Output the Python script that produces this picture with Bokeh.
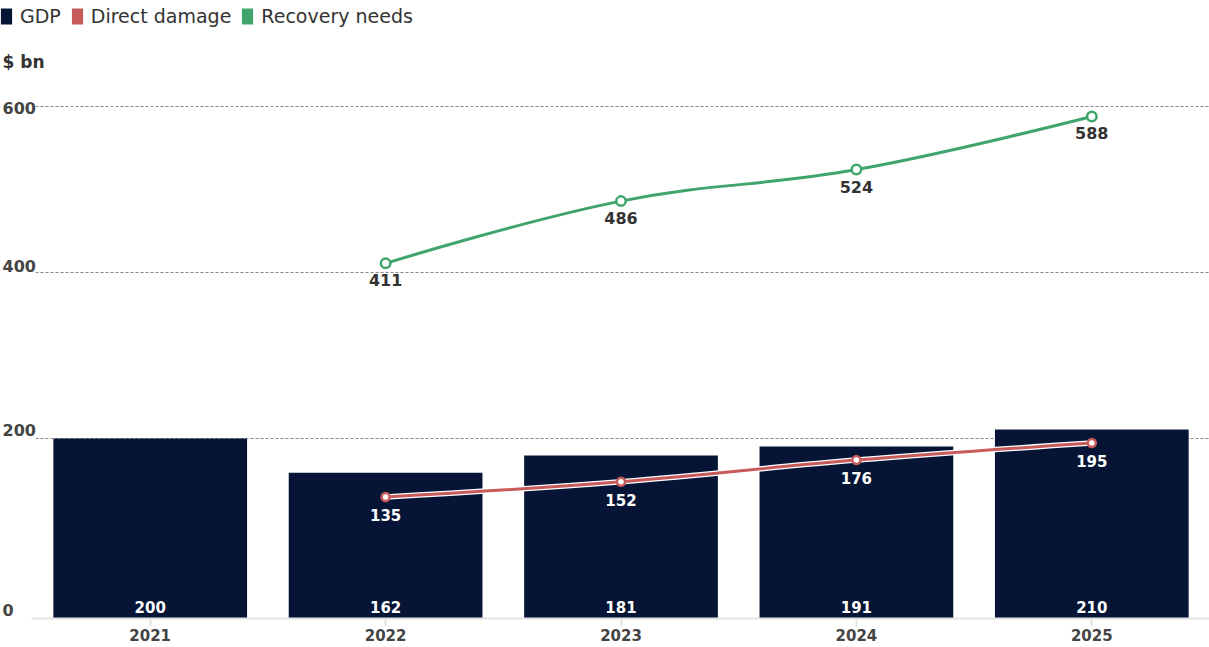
from bokeh.plotting import figure
from bokeh.models import Range1d, FixedTicker, Grid, Label, Legend, LegendItem, BoxAnnotation
from bokeh.core.properties import value
from bokeh.embed import file_html
from bokeh.resources import INLINE

# ---------------- data ----------------
years = ["2021", "2022", "2023", "2024", "2025"]
gdp = [200, 162, 181, 191, 210]
line_years = ["2022", "2023", "2024", "2025"]
direct_damage = [135, 152, 176, 195]
recovery_needs = [411, 486, 524, 588]
y_ticks = [0, 200, 400, 600]

# ---------------- style ----------------
NAVY = "#061536"
RED = "#c75b5b"
GREEN = "#3fa56c"
TEXT = "#333333"
AXIS_TEXT = "#444444"
FONT = "DejaVu Sans"

W, H = 1209, 647
PLOT_LEFT = 32        # px where the category band starts
BOTTOM = 29           # px below the baseline for the x axis
frame_h = H - BOTTOM  # frame spans the whole canvas above the axis
UNIT = (W - PLOT_LEFT) / len(years)   # px per category

BAR_PX = 0.9          # px per unit for GDP / damage scale
REC_PX = 0.83         # px per unit for recovery scale
REC_ZERO = 14         # px above baseline where recovery scale's zero sits

idx = {y: i for i, y in enumerate(years)}
gx = [idx[y] for y in years]
lx = [idx[y] for y in line_years]

x_start = -0.5 - PLOT_LEFT / UNIT
p = figure(width=W, height=H,
           x_range=Range1d(x_start, len(years) - 0.5),
           y_range=Range1d(-REC_ZERO / REC_PX, (frame_h - REC_ZERO) / REC_PX),
           y_axis_location=None,
           min_border_left=0, min_border_right=0,
           min_border_top=0, min_border_bottom=BOTTOM,
           output_backend="svg", toolbar_location=None)
p.extra_y_ranges = {"bar": Range1d(0, frame_h / BAR_PX)}
p.outline_line_color = None
p.background_fill_color = "white"
p.border_fill_color = "white"
p.xgrid.visible = False
p.ygrid.visible = False

# y gridlines
p.add_layout(Grid(dimension=1, ticker=FixedTicker(ticks=[t for t in y_ticks if t > 0]),
                  grid_line_color="#888888", grid_line_dash="3 2", grid_line_width=1))
# keep the gridlines clear of the tick-label column
p.add_layout(BoxAnnotation(right=-0.5 + 3 / UNIT, fill_color="white", fill_alpha=1,
                           line_color=None, level="underlay"))

# x axis
ax = p.xaxis[0]
ax.bounds = (-0.5 - 1 / UNIT, len(years) - 0.5)
ax.ticker = FixedTicker(ticks=gx)
ax.major_label_overrides = {i: y for i, y in zip(gx, years)}
ax.axis_line_color = "#e3e3e3"
ax.axis_line_width = 2
ax.major_tick_line_color = "#e3e3e3"
ax.major_tick_line_width = 2
ax.major_tick_out = 8
ax.major_tick_in = 0
ax.minor_tick_line_color = None
ax.major_label_standoff = 2
ax.major_label_text_font = FONT
ax.major_label_text_font_style = "bold"
ax.major_label_text_font_size = "15px"
ax.major_label_text_color = AXIS_TEXT


def spline(xs, ys, smoothing=1.5):
    """Bezier control points for a smooth line through the data points."""
    n = len(xs)
    d = smoothing + 1
    left = [(xs[i], ys[i]) for i in range(n)]
    right = [(xs[i], ys[i]) for i in range(n)]
    for i in range(1, n - 1):
        x, y = xs[i], ys[i]
        px, py = xs[i - 1], ys[i - 1]
        nx, ny = xs[i + 1], ys[i + 1]
        lcx, lcy = (smoothing * x + px) / d, (smoothing * y + py) / d
        rcx, rcy = (smoothing * x + nx) / d, (smoothing * y + ny) / d
        corr = ((rcy - lcy) * (rcx - x)) / (rcx - lcx) + y - rcy
        lcy += corr
        rcy += corr
        if lcy > py and lcy > y:
            lcy = max(py, y); rcy = 2 * y - lcy
        elif lcy < py and lcy < y:
            lcy = min(py, y); rcy = 2 * y - lcy
        if rcy > ny and rcy > y:
            rcy = max(ny, y); lcy = 2 * y - rcy
        elif rcy < ny and rcy < y:
            rcy = min(ny, y); lcy = 2 * y - rcy
        left[i] = (lcx, lcy)
        right[i] = (rcx, rcy)
    return dict(x0=xs[:-1], y0=ys[:-1], x1=xs[1:], y1=ys[1:],
                cx0=[right[i][0] for i in range(n - 1)], cy0=[right[i][1] for i in range(n - 1)],
                cx1=[left[i + 1][0] for i in range(n - 1)], cy1=[left[i + 1][1] for i in range(n - 1)])


# bars
bars = p.vbar(x=gx, top=gdp, bottom=0, width=0.823, fill_color=NAVY, line_color=None,
              y_range_name="bar")
p.text(x=gx, y=0, text=[str(v) for v in gdp], y_range_name="bar",
       text_align="center", text_baseline="middle", y_offset=-12,
       text_color="white", text_font=value(FONT), text_font_style="bold",
       text_font_size="15px")

# direct damage line
dd = spline(lx, direct_damage)
p.bezier(y_range_name="bar", line_color="white", line_width=5.5, **dd)
p.bezier(y_range_name="bar", line_color=RED, line_width=3, **dd)
p.scatter(lx, direct_damage, y_range_name="bar", size=8, fill_color="white",
          line_color=RED, line_width=2.5)
p.text(x=lx, y=direct_damage, text=[str(v) for v in direct_damage], y_range_name="bar",
       text_align="center", text_baseline="middle", y_offset=18,
       text_color="white", text_font=value(FONT), text_font_style="bold",
       text_font_size="15px")

# recovery needs line
rn = spline(lx, recovery_needs)
p.bezier(line_color=GREEN, line_width=3, **rn)
p.scatter(lx, recovery_needs, size=9.5, fill_color="white", line_color=GREEN, line_width=2.5)
p.text(x=lx, y=recovery_needs, text=[str(v) for v in recovery_needs],
       text_align="center", text_baseline="middle", y_offset=17,
       text_color=TEXT, text_font=value(FONT), text_font_style="bold",
       text_font_size="16px")

# y tick labels (left column, sitting just above their gridlines)
tick_shift = {0: -5, 200: 9, 400: 7, 600: -1}
for t in y_ticks:
    p.add_layout(Label(x=-0.5, y=t, x_offset=-30, y_offset=tick_shift[t], text=str(t),
                       text_align="left", text_baseline="middle",
                       text_font=FONT, text_font_style="bold", text_font_size="16px",
                       text_color=AXIS_TEXT))

# unit label
p.add_layout(Label(x=2, y=frame_h - 61, x_units="screen", y_units="screen",
                   text="$ bn", text_align="left", text_baseline="middle",
                   text_font=FONT, text_font_style="bold", text_font_size="17px",
                   text_color=TEXT))

# legend swatches (zero-height bars, used only for their colours)
leg_red = p.vbar(x=[0], top=[0], bottom=[0], width=0.5, fill_color=RED, line_color=None,
                 y_range_name="bar")
leg_green = p.vbar(x=[0], top=[0], bottom=[0], width=0.5, fill_color=GREEN, line_color=None,
                   y_range_name="bar")
legend = Legend(items=[LegendItem(label="GDP", renderers=[bars]),
                       LegendItem(label="Direct damage", renderers=[leg_red]),
                       LegendItem(label="Recovery needs", renderers=[leg_green])],
                orientation="horizontal", location=(-1, frame_h - 27),
                glyph_width=14, glyph_height=20, label_standoff=7, spacing=9,
                padding=0, margin=0, border_line_color=None, background_fill_alpha=0,
                label_text_font=FONT, label_text_font_size="19px",
                label_text_color=TEXT, label_height=22)
p.add_layout(legend, "center")

html = file_html(p, INLINE)
html = html.replace("</head>", "<style>html,body{margin:0;padding:0;}</style></head>", 1)
open("out.html", "w").write(html)
